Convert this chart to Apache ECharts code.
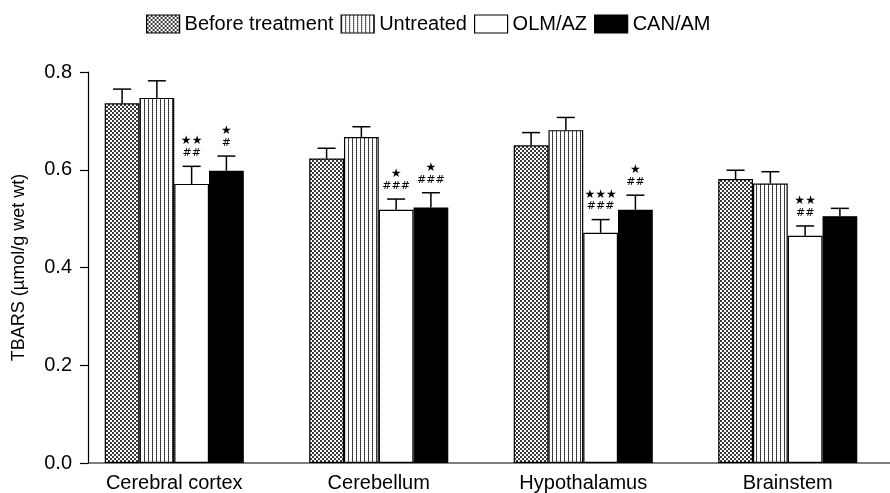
<!DOCTYPE html>
<html lang="en">
<head>
    <meta charset="utf-8" />
    <title>TBARS</title>
    <script src="https://cdn.jsdelivr.net/npm/echarts@6.0.0/dist/echarts.min.js"></script>
    <style>
        html, body { margin: 0; padding: 0; background: #fff; }
    </style>
</head>
<body>
    <div id="main" style="width:890px;height:493px"></div>
    <script>
        // data
        var categories = ['Cerebral cortex', 'Cerebellum', 'Hypothalamus', 'Brainstem'];
        var seriesNames = ['Before treatment', 'Untreated', 'OLM/AZ', 'CAN/AM'];

        var beforeTreatment = [0.736, 0.623, 0.650, 0.581];
        var beforeErr = [0.029, 0.021, 0.026, 0.018];
        var untreated = [0.747, 0.667, 0.681, 0.572];
        var untreatedErr = [0.035, 0.021, 0.026, 0.024];
        var olmAz = [0.571, 0.518, 0.471, 0.465];
        var olmAzErr = [0.036, 0.022, 0.027, 0.020];
        var canAm = [0.598, 0.523, 0.518, 0.505];
        var canAmErr = [0.030, 0.030, 0.030, 0.016];

        // significance marks above the treated bars
        var olmStars = ['★★', '★', '★★★', '★★'];
        var olmHash = ['##', '###', '###', '##'];
        var canStars = ['★', '★', '★', ''];
        var canHash = ['#', '###', '##', ''];

        var yTicks = [0, 0.2, 0.4, 0.6, 0.8];

        var values = [beforeTreatment, untreated, olmAz, canAm];
        var errors = [beforeErr, untreatedErr, olmAzErr, canAmErr];
        var stars = [null, null, olmStars, canStars];
        var hashes = [null, null, olmHash, canHash];

        var FONT = "'Liberation Sans', Arial, sans-serif";
        var CAT_GAP = 0.32;

        // fill patterns
        function checkerPattern() {
            var c = document.createElement('canvas');
            c.width = 4; c.height = 4;
            var ctx = c.getContext('2d');
            ctx.fillStyle = '#fff';
            ctx.fillRect(0, 0, 4, 4);
            ctx.fillStyle = '#3a3a3a';
            ctx.fillRect(0, 0, 2, 2);
            ctx.fillRect(2, 2, 2, 2);
            return { image: c, repeat: 'repeat' };
        }
        function stripePattern() {
            var c = document.createElement('canvas');
            c.width = 4; c.height = 2;
            var ctx = c.getContext('2d');
            ctx.fillStyle = '#fff';
            ctx.fillRect(0, 0, 4, 2);
            ctx.fillStyle = '#222';
            ctx.fillRect(0, 0, 1, 1);
            ctx.fillStyle = '#555';
            ctx.fillRect(0, 1, 1, 1);
            return { image: c, repeat: 'repeat' };
        }
        var fills = [checkerPattern(), stripePattern(), '#fff', '#000'];

        var myChart = echarts.init(document.getElementById('main'));

        var barSeries = seriesNames.map(function (name, s) {
            return {
                name: name,
                type: 'bar',
                data: values[s],
                barGap: '0%',
                barCategoryGap: (CAT_GAP * 100) + '%',
                itemStyle: { color: fills[s], borderColor: '#000', borderWidth: 1.2 },
                emphasis: { disabled: true },
                z: 2
            };
        });

        // error bars + significance text
        var errData = [];
        for (var s = 0; s < 4; s++) {
            for (var i = 0; i < categories.length; i++) {
                errData.push([i, values[s][i] + errors[s][i], s, values[s][i]]);
            }
        }
        var errSeries = {
            type: 'custom',
            name: 'err',
            data: errData,
            encode: { x: 0, y: 1 },
            z: 5,
            silent: true,
            renderItem: function (params, api) {
                var cat = api.value(0);
                var s = api.value(2);
                var catW = api.size([1, 0])[0];
                var barW = catW * (1 - CAT_GAP) / 4;
                var x = api.coord([cat, 0])[0] + (s - 1.5) * barW;
                var yTop = api.coord([cat, api.value(3)])[1];
                var yCap = api.coord([cat, api.value(1)])[1];
                var half = 9;
                var style = { stroke: '#000', lineWidth: 1.5 };
                var kids = [
                    { type: 'line', shape: { x1: x, y1: yTop, x2: x, y2: yCap }, style: style },
                    { type: 'line', shape: { x1: x - half, y1: yCap, x2: x + half, y2: yCap }, style: style }
                ];
                if (stars[s] && stars[s][cat]) {
                    kids.push({ type: 'text', style: { text: stars[s][cat], x: x, y: yCap - 25, align: 'center', verticalAlign: 'middle', font: '12px DejaVu Sans', fill: '#000' } });
                }
                if (hashes[s] && hashes[s][cat]) {
                    kids.push({ type: 'text', style: { text: hashes[s][cat], x: x, y: yCap - 13, align: 'center', verticalAlign: 'middle', font: '11px DejaVu Sans', fill: '#000' } });
                }
                return { type: 'group', children: kids };
            }
        };

        var option = {
            animation: false,
            textStyle: { fontFamily: FONT, color: '#000' },
            legend: {
                data: seriesNames,
                top: 14,
                left: 146,
                padding: 0,
                itemWidth: 33,
                itemHeight: 18,
                itemGap: 7,
                icon: 'rect',
                textStyle: { fontSize: 20, color: '#000', fontFamily: FONT },
                itemStyle: { borderColor: '#000', borderWidth: 1.2 },
                selectedMode: false
            },
            grid: { left: 72, top: 72, width: 851, height: 393, containLabel: false },
            xAxis: {
                type: 'category',
                data: categories,
                axisLine: { show: false },
                axisTick: { show: false },
                axisLabel: { fontSize: 20, color: '#000', margin: 10, fontFamily: FONT }
            },
            yAxis: {
                type: 'value',
                min: yTicks[0],
                max: yTicks[yTicks.length - 1],
                interval: 0.2,
                offset: -16,
                name: 'TBARS (µmol/g wet wt)',
                nameLocation: 'middle',
                nameGap: 60,
                nameTextStyle: { fontSize: 18, color: '#000', fontFamily: FONT },
                axisLine: { show: true, lineStyle: { color: '#000', width: 1.2 } },
                axisTick: { show: true, length: 8, lineStyle: { color: '#000', width: 1.2 } },
                axisLabel: {
                    fontSize: 20, color: '#000', margin: 16, fontFamily: FONT,
                    formatter: function (v) { return v.toFixed(1); }
                },
                splitLine: { show: false }
            },
            series: barSeries.concat([errSeries])
        };
        myChart.setOption(option);

        // baseline from the y axis to the right edge
        var y0 = myChart.convertToPixel({ yAxisIndex: 0 }, 0);
        myChart.setOption({
            graphic: [{
                type: 'line',
                shape: { x1: 88, y1: y0, x2: 890, y2: y0 },
                style: { stroke: '#000', lineWidth: 1.2 },
                z: 10
            }]
        });
    </script>
</body>
</html>
